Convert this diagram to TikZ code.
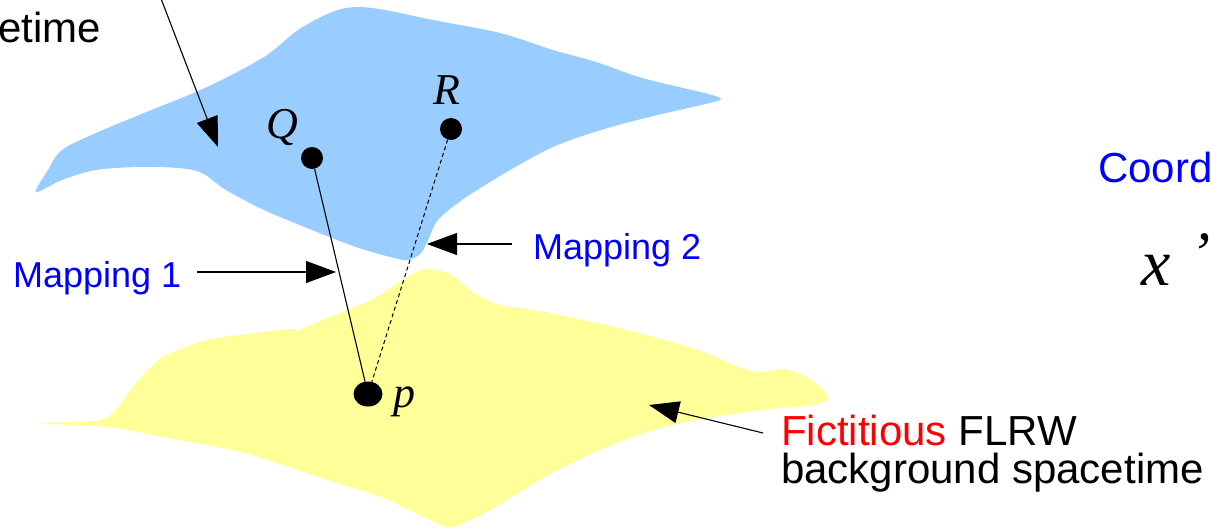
\documentclass[tikz,border=0pt]{standalone}
\usepackage{fontspec}
\setmainfont{Liberation Sans}
\newfontfamily\serifit{Liberation Serif}
\usetikzlibrary{arrows.meta, shapes.geometric}

\definecolor{realblue}{RGB}{153,204,255}
\definecolor{fictyellow}{RGB}{255,255,153}

\begin{document}
\begin{tikzpicture}[
    x=1pt, y=-1pt, % pixel units, y pointing down
    >={Triangle[length=30pt, width=22pt]}, % big filled arrow heads
    pointer/.style={->, line width=1.1pt}, % style for the label arrows
    dot/.style={fill=black, circle, inner sep=0pt, minimum size=22pt}, % points
    ptlabel/.style={font=\fontsize{44}{44}\serifit\itshape, inner sep=0pt},
    maplabel/.style={text=blue, font=\fontsize{36}{36}\selectfont, inner sep=0pt},
    bigtext/.style={font=\fontsize{42}{38}\selectfont, inner sep=0pt, align=left}
]
    \useasboundingbox (0,0) rectangle (1211,528);

    % Real (lumpy) spacetime, blue sheet
    \fill[realblue] plot[smooth cycle, tension=0.55] coordinates {
        (36,192) (48,170) (62,150) (96,133) (144,113) (207,87) (264,57)
        (298,30) (332,12) (356,7) (385,10) (433,20) (500,33) (553,50)
        (596,62) (639,77) (683,88) (712,95) (720,100) (688,108) (649,117)
        (601,130) (553,147) (505,173) (462,200) (438,220) (428,240)
        (421,253) (409,260) (394,258) (356,247) (312,230) (264,210)
        (226,190) (202,173) (178,168) (139,167) (96,170) (62,180)};

    % Fictitious background, yellow sheet
    \fill[fictyellow] plot[smooth cycle, tension=0.5] coordinates {
        (35,423) (95,421) (114,412) (136,383) (163,357) (207,340) (256,333)
        (292,329) (297,331) (327,318) (371,300) (392,287) (414,273) (430,269)
        (452,275) (474,293) (501,305) (545,312) (627,330) (698,350) (741,368)
        (763,372) (785,369) (812,380) (828,397) (817,404) (763,410) (708,418)
        (654,430) (600,450) (545,477) (490,510) (452,527) (430,520) (381,497)
        (327,480) (245,453) (163,437) (109,427)};

    % Points
    \node[dot] (Q) at (312,158) {};
    \node[dot] (R) at (451,129) {};
    \node[dot, ellipse, minimum width=29pt, minimum height=25pt] (p) at (368,394) {};

    \node[ptlabel] (Qlab) at (282,127) {Q};
    \node[ptlabel] (Rlab) at (447,90) {R};
    \node[ptlabel, anchor=base west] (plab) at (393,407) {p};

    % Mappings
    \draw[line width=1.1pt] (Q) -- (p);
    \draw[line width=1pt, dash pattern=on 4pt off 3pt] (R) -- (p);

    % Labels
    \node[maplabel, anchor=base west] (map1) at (13,287) {Mapping 1};
    \node[maplabel, anchor=base west] (map2) at (533,259) {Mapping 2};
    \node[bigtext, anchor=base east] (real) at (101,42) {etime};
    \node[bigtext, text=blue, anchor=base west] (coord) at (1098,182) {Coord};
    \node[font=\fontsize{66}{66}\serifit\itshape, inner sep=0pt, anchor=base west] (xprime)
        at (1141,285) {x\hspace{20pt}\raisebox{12pt}{\fontsize{60}{60}\selectfont ’}};
    \node[bigtext, anchor=base west] (fict) at (781,483)
        {\textcolor{red}{Fictitious} FLRW\\background spacetime};

    % Arrows pointing at things
    \coordinate (realtail) at (160,-4);
    \coordinate (realtip) at (218,147);
    \coordinate (m1tail) at (197,272);
    \coordinate (m1tip) at (336,272);
    \coordinate (m2tail) at (512,244);
    \coordinate (m2tip) at (427,244);
    \coordinate (ftail) at (763,433);
    \coordinate (ftip) at (649,405);

    \draw[pointer] (realtail) -- (realtip);
    \draw[pointer] (m1tail) -- (m1tip);
    \draw[pointer] (m2tail) -- (m2tip);
    \draw[pointer] (ftail) -- (ftip);

\end{tikzpicture}
\end{document}
